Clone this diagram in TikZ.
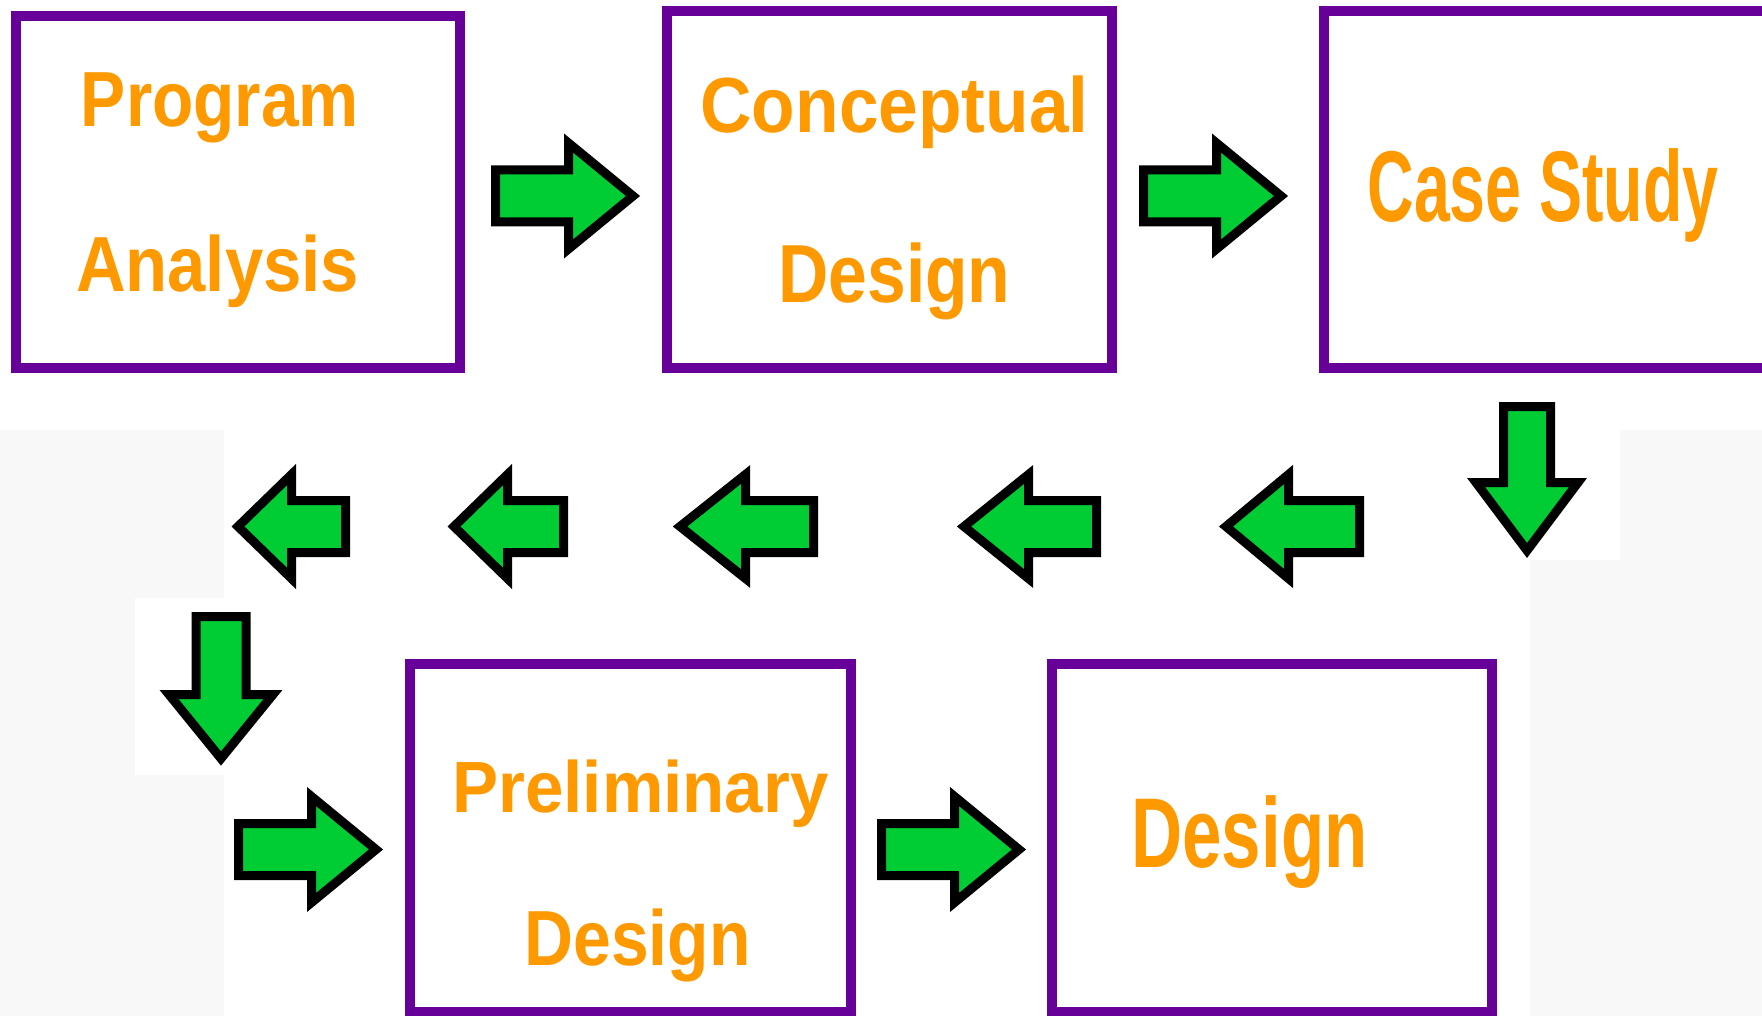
\documentclass[tikz,border=0pt]{standalone}
\usepackage{fontspec}
\setmainfont{Liberation Sans}
\usepackage{graphicx}

\definecolor{boxpurple}{HTML}{660099}
\definecolor{txtorange}{HTML}{FF9900}
\definecolor{arrowgreen}{HTML}{00CC33}
\definecolor{paper}{HTML}{F8F8F8}

% label text: font size (pt), set width (pt), text
\newcommand\fitlabel[3]{{\fontsize{#1pt}{#1pt}\selectfont\resizebox{#2pt}{\height}{#3}}}

\tikzset{
  frame/.style={rectangle, draw=boxpurple, line width=5pt, fill=white, inner sep=0pt},
  lbl/.style={text=txtorange, inner sep=0pt, anchor=base, font=\bfseries},
  arrowbody/.style={draw=black, fill=arrowgreen, line width=4.5pt, line join=miter},
  % block arrow pointing along +x: length, head length, head half-width, shaft half-width
  pics/blockarrow/.style n args={4}{code={
    \draw[arrowbody] (0,-#4) -- ({#1-#2},-#4) -- ({#1-#2},-#3) -- (#1,0)
      -- ({#1-#2},#3) -- ({#1-#2},#4) -- (0,#4) -- cycle;
  }},
}

\begin{document}
\begin{tikzpicture}[x=0.5pt,y=-0.5pt]
\useasboundingbox (0,0) rectangle (1762,1016);
\clip (0,0) rectangle (1762,1016);
\fill[white] (0,0) rectangle (1762,1016);

% faint textured margins
\fill[paper] (0,430) rectangle (224,1016);
\fill[white] (135,598) rectangle (290,775);
\fill[paper] (1530,560) rectangle (1762,1016);
\fill[paper] (1620,430) rectangle (1762,560);

% process boxes
\node[frame, minimum width=222pt,   minimum height=176pt]   (pa) at (238,192) {};
\node[frame, minimum width=222.5pt, minimum height=178.5pt] (cd) at (889.5,189.5) {};
\node[frame, minimum width=228pt,   minimum height=178.5pt] (cs) at (1552,189.5) {};
\node[frame, minimum width=220.5pt, minimum height=174pt]   (pd) at (630.5,838) {};
\node[frame, minimum width=220pt,   minimum height=174pt]   (fd) at (1272,838) {};

% box labels
\node[lbl] (paA) at (220,127)    {\fitlabel{39.1}{139}{Program}};
\node[lbl] (paB) at (217.5,292)  {\fitlabel{39.1}{141.5}{Analysis}};
\node[lbl] (cdA) at (894.5,133)  {\fitlabel{39.1}{194}{Conceptual}};
\node[lbl] (cdB) at (894.5,303)  {\fitlabel{41.2}{116}{Design}};
\node[lbl] (csA) at (1543,222)   {\fitlabel{50.3}{175.5}{Case Study}};
\node[lbl] (pdA) at (640.5,812)  {\fitlabel{36.3}{188}{Preliminary}};
\node[lbl] (pdB) at (637.5,965)  {\fitlabel{39.1}{113}{Design}};
\node[lbl] (fdA) at (1249.5,867) {\fitlabel{49.6}{118}{Design}};

% arrow positions (tail ends)
\coordinate (r1) at (495.5,196);
\coordinate (r2) at (1143.5,196);
\coordinate (dr) at (1527,406.5);
\coordinate (l5) at (1359.5,526.5);
\coordinate (l4) at (1096.5,526.5);
\coordinate (l3) at (813.5,526.5);
\coordinate (l2) at (563.5,526.5);
\coordinate (l1) at (345.5,526.5);
\coordinate (dl) at (221,616.5);
\coordinate (r3) at (238.5,849.5);
\coordinate (r4) at (881.5,849.5);

% arrows
\pic at (r1) {blockarrow={137.5}{64.5}{53}{26}};
\pic at (r2) {blockarrow={137.5}{64.5}{53}{26}};
\pic[rotate=-90] at (dr) {blockarrow={144}{68}{51}{23.5}};
\pic[rotate=180] at (l5) {blockarrow={133.5}{62.5}{52}{26}};
\pic[rotate=180] at (l4) {blockarrow={132.5}{64.5}{52}{26}};
\pic[rotate=180] at (l3) {blockarrow={133.5}{65.5}{52}{26}};
\pic[rotate=180] at (l2) {blockarrow={109.5}{53.5}{52}{26}};
\pic[rotate=180] at (l1) {blockarrow={107.5}{53.5}{52}{26}};
\pic[rotate=-90] at (dl) {blockarrow={142}{64}{52}{25}};
\pic at (r3) {blockarrow={137.5}{64.5}{53}{26}};
\pic at (r4) {blockarrow={137.5}{64.5}{53}{26}};
\end{tikzpicture}
\end{document}
